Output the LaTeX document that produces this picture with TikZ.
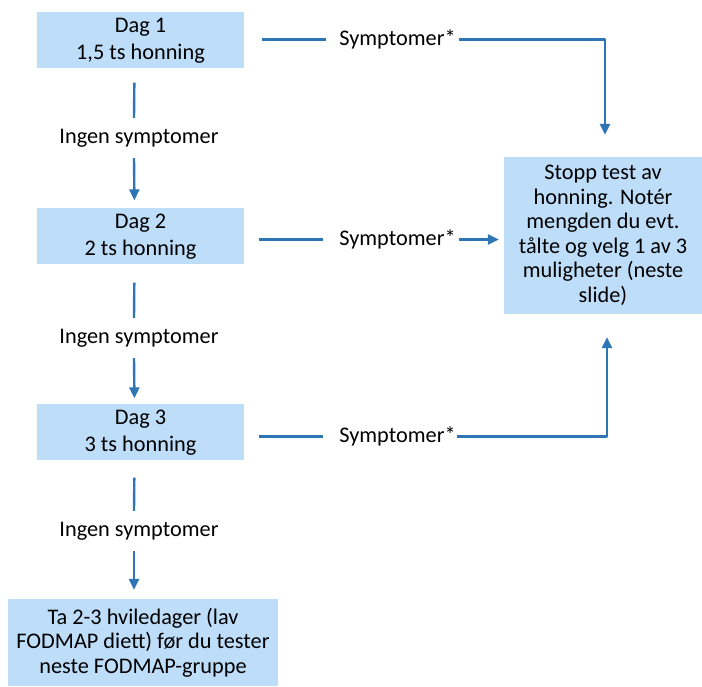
\documentclass[tikz,border=0pt]{standalone}
\usepackage{fontspec}
\setmainfont{Carlito}
\usetikzlibrary{arrows.meta}
\definecolor{boxblue}{RGB}{189,221,249}
\definecolor{lineblue}{RGB}{46,117,182}

\begin{document}
\begin{tikzpicture}[x=1pt,y=-1pt,line join=round,
  box/.style={fill=boxblue,align=center,inner sep=0pt,font=\fontsize{22.3}{24.5}\selectfont},
  lbl/.style={inner sep=0pt,font=\fontsize{22.3}{24.5}\selectfont},
  ingen/.style={lbl,minimum height=40pt},
  conn/.style={draw=lineblue,line width=2.4pt},
  arr/.style={conn,-{Triangle[length=11pt,width=10pt]}}]
\useasboundingbox (0,0) rectangle (702,686);
% days
\node[box,minimum width=207pt,minimum height=56pt] (dag1) at (140.5,39.5) {\strut Dag 1\\[2pt]1,5 ts honning};
\node[box,minimum width=207pt,minimum height=56pt] (dag2) at (140.5,235.5) {\strut Dag 2\\[2pt]2 ts honning};
\node[box,minimum width=207pt,minimum height=56pt] (dag3) at (140.5,431.5) {\strut Dag 3\\[2pt]3 ts honning};
\node[box,minimum width=270pt,minimum height=87pt] (pause) at (143,642.5) {Ta 2-3 hviledager (lav\\FODMAP diett) f\o r du tester\\neste FODMAP-gruppe};
\node[box,minimum width=198pt,minimum height=157pt] (stopp) at (603,235.5) {Stopp test av\\honning. Not\'er\\mengden du evt.\\t\aa lte og velg 1 av 3\\muligheter (neste\\slide)};
% labels
\node[ingen] (ing1) at (139,138) {Ingen symptomer};
\node[ingen] (ing2) at (139,338) {Ingen symptomer};
\node[ingen] (ing3) at (139,531) {Ingen symptomer};
\node[lbl] (sym1) at (397.5,39.5) {Symptomer*};
\node[lbl] (sym2) at (397.5,239.5) {Symptomer*};
\node[lbl] (sym3) at (397.5,436.5) {Symptomer*};
% down the left
\draw[conn,shorten <=15pt] ([xshift=-6pt]dag1.south) -- ([xshift=-5pt]ing1.north);
\draw[arr,shorten >=7pt] ([xshift=-5pt]ing1.south) -- ([xshift=-6pt]dag2.north);
\draw[conn,shorten <=19pt] ([xshift=-6pt]dag2.south) -- ([xshift=-5pt]ing2.north);
\draw[arr,shorten >=5pt] ([xshift=-5pt]ing2.south) -- ([xshift=-6pt]dag3.north);
\draw[conn,shorten <=18pt] ([xshift=-6pt]dag3.south) -- ([xshift=-5pt]ing3.north);
\draw[arr,shorten >=9pt] ([xshift=-5pt]ing3.south) -- ([xshift=-9pt]pause.north);
% to the stop box
\draw[conn,shorten <=18pt,shorten >=13pt] (dag1.east) -- (dag1.east -| sym1.west);
\draw[arr,shorten <=3pt,shorten >=22pt] (sym1.east) -| ([xshift=2pt]stopp.north);
\draw[conn,shorten <=15pt,shorten >=16pt] (dag2.east |- sym2.west) -- (sym2.west);
\draw[arr,shorten <=3pt,shorten >=5pt] (sym2.east) -- (sym2.east -| stopp.west);
\draw[conn,shorten <=15pt,shorten >=16pt] (dag3.east |- sym3.west) -- (sym3.west);
\draw[arr,shorten <=1pt,shorten >=23pt] (sym3.east) -| ([xshift=4pt]stopp.south);
\end{tikzpicture}
\end{document}
